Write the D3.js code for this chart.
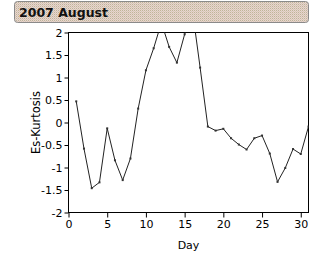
<!DOCTYPE html>
<html>
<head>
<meta charset="utf-8">
<script src="https://cdn.jsdelivr.net/npm/d3@7"></script>
<style>
body { margin:0; background:#fff; }
text { font-family: "DejaVu Sans", Verdana, sans-serif; }
</style>
</head>
<body>
<script>
const w = 325;
const h = 253;

// data
const title = "2007 August";
const days = d3.range(1, 32);
const kurtosis = [0.47, -0.58, -1.46, -1.33, -0.13, -0.84, -1.28, -0.80, 0.31, 1.16,
                  1.65, 2.22, 1.68, 1.33, 1.96, 2.5, 1.22, -0.09, -0.18, -0.14,
                  -0.35, -0.49, -0.60, -0.35, -0.29, -0.69, -1.32, -1.01, -0.59, -0.70, -0.09];
const xTicks = [0, 5, 10, 15, 20, 25, 30];
const yTicks = [-2, -1.5, -1, -0.5, 0, 0.5, 1, 1.5, 2];

const mLeft = 68.5, mRight = 308.5, mTop = 32.5, mBottom = 212.5;

let svg = d3.select("body")
    .append("svg")
    .attr("width", w)
    .attr("height", h);

// dotted header background
let defs = svg.append("defs");
let pat = defs.append("pattern")
    .attr("id", "dots")
    .attr("width", 2).attr("height", 2)
    .attr("patternUnits", "userSpaceOnUse");
pat.append("rect").attr("width", 2).attr("height", 2).attr("fill", "#e4d8cf");
pat.append("rect").attr("width", 1).attr("height", 1).attr("fill", "#c2b299");
pat.append("rect").attr("x", 1).attr("y", 1).attr("width", 1).attr("height", 1).attr("fill", "#dcc3b8");

svg.append("rect")
    .attr("x", 14.5).attr("y", 1.5)
    .attr("width", 294).attr("height", 21)
    .attr("rx", 3).attr("ry", 3)
    .attr("fill", "url(#dots)")
    .attr("stroke", "#8a8a8a");

svg.append("text")
    .attr("x", 19).attr("y", 17)
    .attr("font-size", 12.5)
    .attr("font-weight", "bold")
    .attr("fill", "#111")
    .text(title);

let x = d3.scaleLinear().domain([0, 31]).range([mLeft, mRight]);
let y = d3.scaleLinear().domain([-2, 2]).range([mBottom, mTop]);

defs.append("clipPath").attr("id", "plot")
    .append("rect")
    .attr("x", mLeft).attr("y", mTop)
    .attr("width", mRight - mLeft).attr("height", mBottom - mTop);

// frame
svg.append("rect")
    .attr("x", mLeft).attr("y", mTop)
    .attr("width", mRight - mLeft).attr("height", mBottom - mTop)
    .attr("fill", "none")
    .attr("stroke", "#000");

let xAxis = svg.append("g")
    .attr("transform", "translate(0," + mBottom + ")")
    .call(d3.axisBottom(x).tickValues(xTicks).tickSize(5).tickPadding(3).tickFormat(d3.format("d")));

let yAxis = svg.append("g")
    .attr("transform", "translate(" + mLeft + ",0)")
    .call(d3.axisLeft(y).tickValues(yTicks).tickSize(4).tickPadding(2).tickFormat(d => String(d)));

[xAxis, yAxis].forEach(g => {
    g.select(".domain").remove();
    g.selectAll("text")
        .attr("font-family", "DejaVu Sans, Verdana, sans-serif")
        .attr("font-size", 11)
        .attr("fill", "#000");
});

svg.append("text")
    .attr("x", (mLeft + mRight) / 2)
    .attr("y", 249)
    .attr("text-anchor", "middle")
    .attr("font-size", 11)
    .text("Day");

svg.append("text")
    .attr("transform", "translate(40," + ((mTop + mBottom) / 2) + ") rotate(-90)")
    .attr("text-anchor", "middle")
    .attr("font-size", 11.5)
    .text("Es-Kurtosis");

let pts = days.map((d, i) => ({day: d, v: kurtosis[i]}));

let g = svg.append("g").attr("clip-path", "url(#plot)");

g.append("path")
    .datum(pts)
    .attr("fill", "none")
    .attr("stroke", "#222")
    .attr("stroke-width", 1)
    .attr("d", d3.line().x(d => x(d.day)).y(d => y(d.v)));

g.selectAll("rect.pt")
    .data(pts)
    .enter()
    .append("rect")
    .attr("class", "pt")
    .attr("x", d => x(d.day) - 1)
    .attr("y", d => y(d.v) - 1)
    .attr("width", 2)
    .attr("height", 2)
    .attr("fill", "#333");
</script>
</body>
</html>
